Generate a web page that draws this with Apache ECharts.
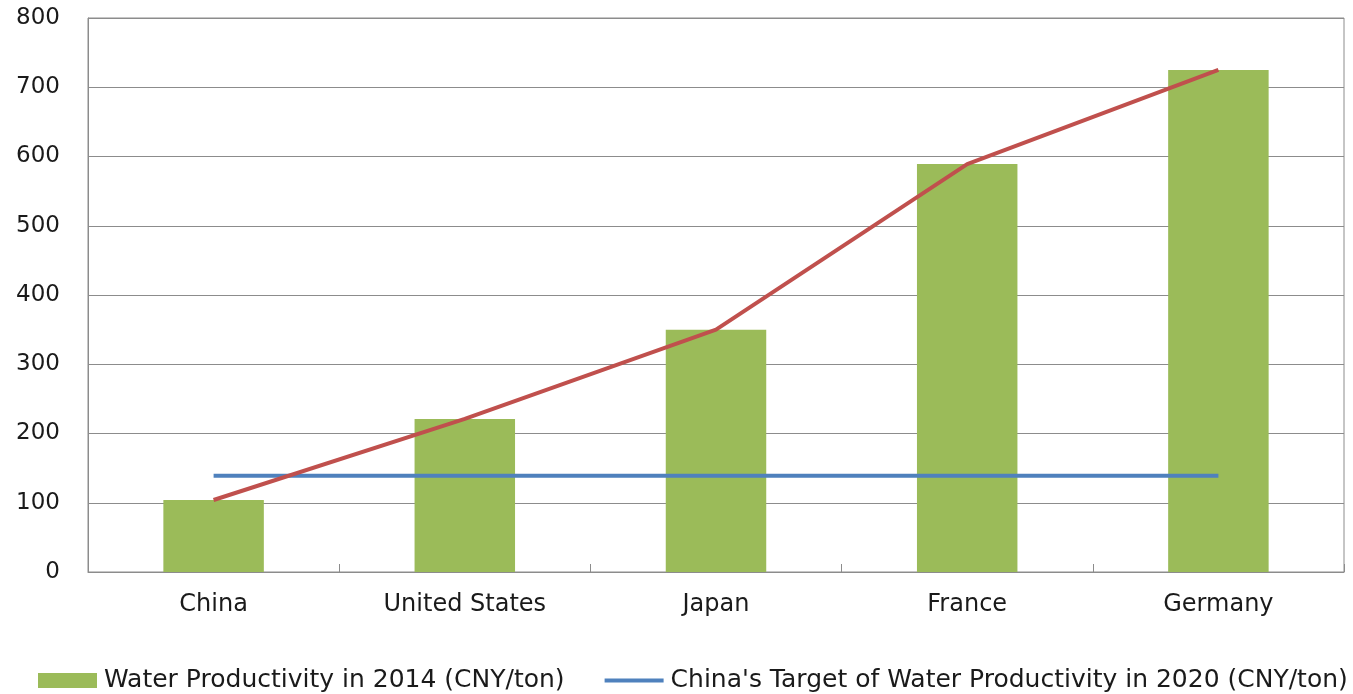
<!DOCTYPE html>
<html>
<head>
<meta charset="utf-8">
<title>Water Productivity</title>
<script src="https://cdn.jsdelivr.net/npm/echarts@6/dist/echarts.min.js"></script>
<style>
  html, body { margin: 0; padding: 0; background: #fff; }
  #chart { width: 1353px; height: 694px; }
</style>
</head>
<body>
<div id="chart"></div>
<script>
// Countries on the category axis
const countries = ['China', 'United States', 'Japan', 'France', 'Germany'];
// Water productivity in 2014, CNY per ton of water
const productivity2014 = [104, 221, 350, 589, 725];
// China's 2020 target, constant across the axis
const chinaTarget2020 = [139, 139, 139, 139, 139];
// Value axis ticks
const yTicks = [0, 100, 200, 300, 400, 500, 600, 700, 800];

const barName = 'Water Productivity in 2014 (CNY/ton)';
const targetName = "China's Target of Water Productivity in 2020 (CNY/ton)";
const trendName = 'Trend';

const font = 'DejaVu Sans';
const gray = '#8c8c8c';
const ink = '#1a1a1a';

const chart = echarts.init(document.getElementById('chart'), null, { renderer: 'canvas' });

chart.setOption({
  animation: false,
  backgroundColor: '#ffffff',
  textStyle: { fontFamily: font },
  grid: {
    left: 88, right: 9, top: 18, bottom: 122,
    show: true, borderColor: gray, borderWidth: 1
  },
  legend: {
    left: 33,
    top: 663,
    itemWidth: 59,
    itemHeight: 15,
    itemGap: 40,
    textStyle: { fontFamily: font, fontSize: 25, color: ink, padding: [0, 0, 0, 2] },
    data: [
      { name: barName, icon: 'rect' },
      { name: targetName, icon: 'path://M0,0H60V4H0Z' }
    ]
  },
  xAxis: {
    type: 'category',
    data: countries,
    boundaryGap: true,
    axisLine: { lineStyle: { color: gray, width: 1 } },
    axisTick: { show: true, inside: true, length: 8, lineStyle: { color: gray } },
    axisLabel: { fontFamily: font, fontSize: 24, color: ink, margin: 21 },
    splitLine: { show: false }
  },
  yAxis: {
    type: 'value',
    min: yTicks[0],
    max: yTicks[yTicks.length - 1],
    interval: yTicks[1] - yTicks[0],
    axisLine: { show: true, lineStyle: { color: gray, width: 1 } },
    axisTick: { show: false },
    axisLabel: { fontFamily: font, fontSize: 23, color: ink, margin: 28 },
    splitLine: { show: true, lineStyle: { color: gray, width: 1 } }
  },
  series: [
    {
      name: barName,
      type: 'bar',
      data: productivity2014,
      barWidth: '40%',
      itemStyle: { color: '#9BBB59' },
      z: 1
    },
    {
      name: targetName,
      type: 'line',
      data: chinaTarget2020,
      symbol: 'none',
      lineStyle: { color: '#4F81BD', width: 4 },
      itemStyle: { color: '#4F81BD' },
      z: 3
    },
    {
      name: trendName,
      type: 'line',
      data: productivity2014,
      symbol: 'none',
      lineStyle: { color: '#C0504D', width: 4 },
      itemStyle: { color: '#C0504D' },
      z: 4
    }
  ]
});
</script>
</body>
</html>
